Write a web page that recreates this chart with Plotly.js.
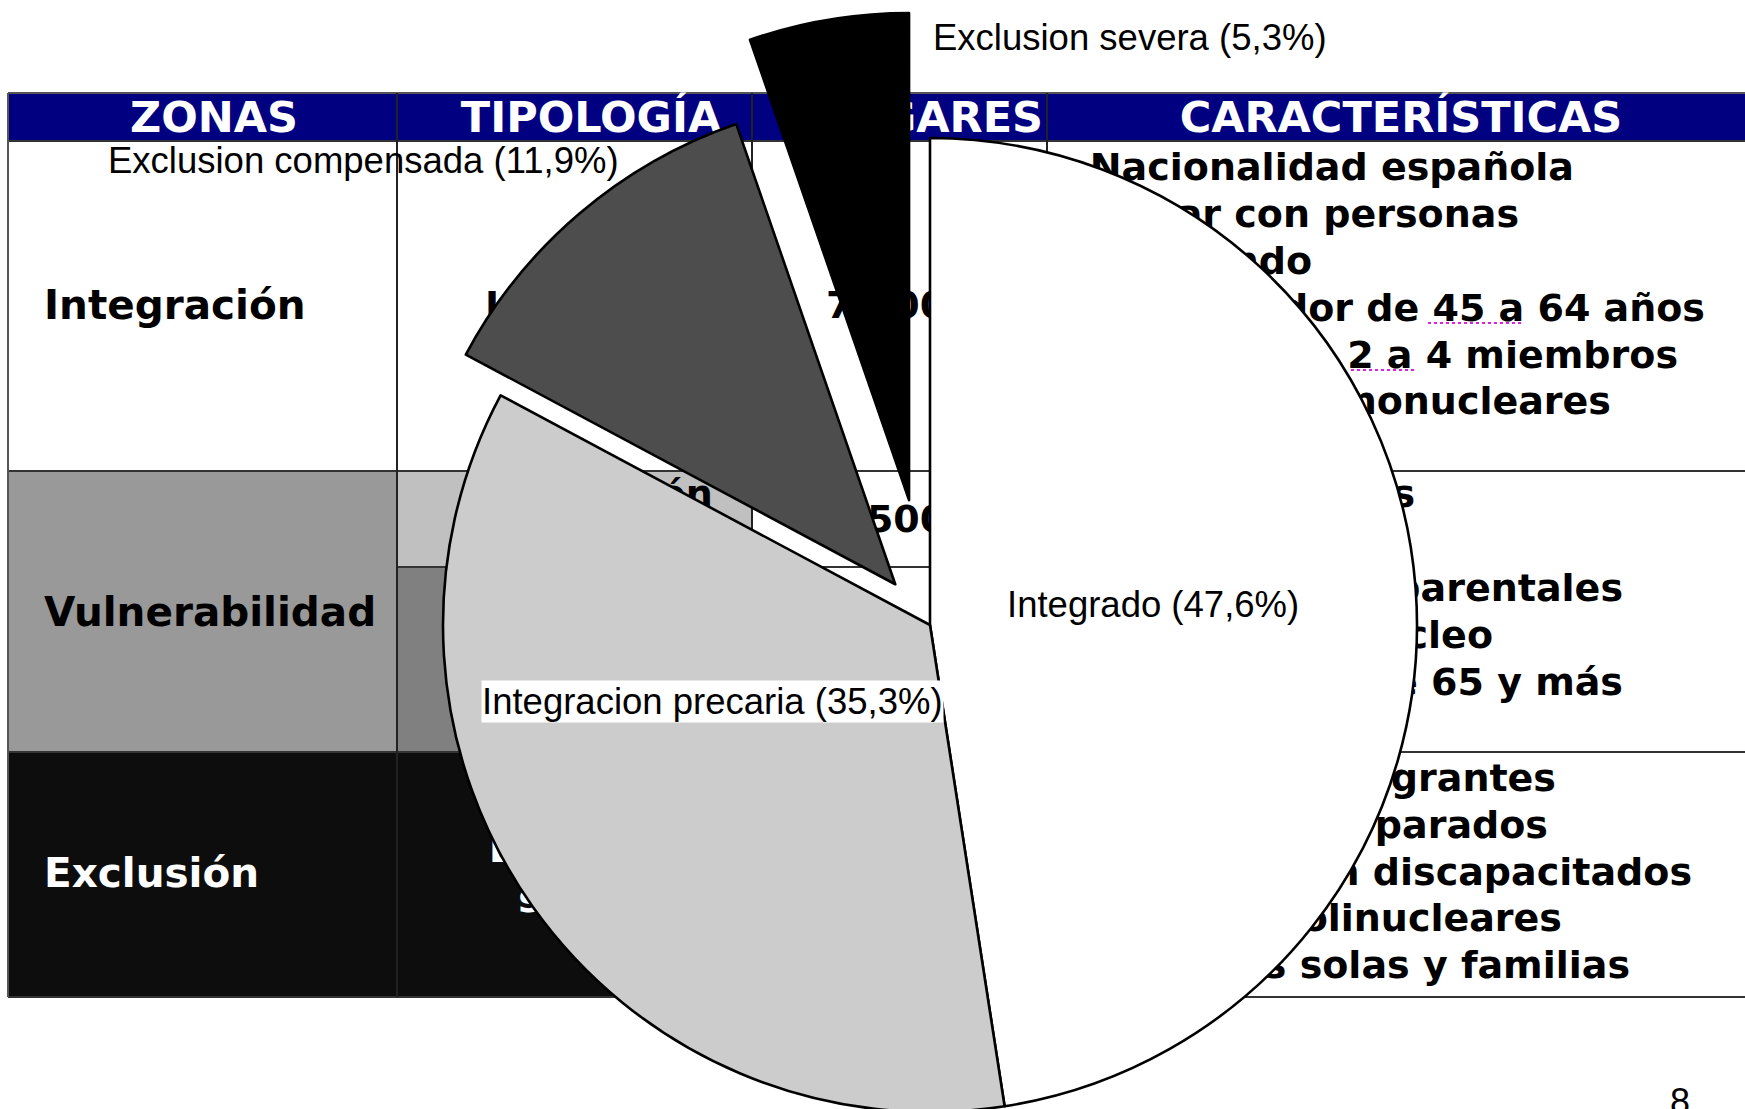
<!DOCTYPE html>
<html><head><meta charset="utf-8">
<script src="https://cdn.plot.ly/plotly-3.0.1.min.js"></script>
<style>
html,body{margin:0;padding:0;overflow:hidden;background:#fff;}
#wrap{width:1745px;height:1109px;overflow:hidden;position:relative;}
#chart{width:1745px;height:1300px;}
</style></head><body>
<div id="wrap"><div id="chart"></div></div>
<script>
// ---------------- data ----------------
const sliceLabels = ['Integrado', 'Integracion precaria', 'Exclusion compensada', 'Exclusion severa'];
const sliceValues = [47.6, 35.3, 11.9, 5.3];
const sliceColors = ['#ffffff', '#cccccc', '#4d4d4d', '#000000'];
const slicePull = [0, 0, 0.11, 0.26];

const headers = ['ZONAS', 'TIPOLOGÍA', 'HOGARES', 'CARACTERÍSTICAS'];
const zones = ['Integración', 'Vulnerabilidad', 'Exclusión'];
const typologies = ['Integrado', 'Integración<br>precaria', 'Exclusión<br>compensada', 'Exclusión<br>severa'];
const households = ['7.500.000', '5.500.000'];
const charsIntegracion = ['Nacionalidad española', 'Hogar con personas', 'trabajando',
  'Sustentador de 45 a 64 años', 'Hogares de 2 a 4 miembros', 'Hogares mononucleares'];
const charsVulnerabilidad = ['Hogares jóvenes', 'Sustentador mujer', 'Hogares monoparentales',
  'Hogares sin núcleo', 'Sustentador de 65 y más'];
const charsExclusion = ['Hogares inmigrantes', 'Sustentadores parados', 'Hogares con discapacitados',
  'Hogares polinucleares', 'Personas solas y familias'];
const pageNumber = ['8'];

// ---------------- layout constants ----------------
const W = 1745, H = 1300;
const L = 8, R = 1745, HT = 93, HB = 141, RB = [471, 752, 997], SUB = 567;
const COLS = [8, 397, 752, 1047];
const BODY = 'DejaVu Sans', LAB = 'Liberation Sans, Arial, sans-serif';
const fsHead = 43, fsZone = 40.5, fsBody = 38;
// y of text point so that cap-centre lands on c (plotly middle text: baseline = y + 0.25*fs)
const ty = (c, fs) => c + 0.1145 * fs;

// pie geometry
const cx = 930, cy = 625, rad = 487;
const maxPull = Math.max(...slicePull);
const box = 2 * rad * (1 + maxPull);
const dom = {
  x: [(cx - box / 2) / W, (cx + box / 2) / W],
  y: [1 - (cy + box / 2) / H, 1 - (cy - box / 2) / H]
};

const traces = [];
function textTrace(xs, ys, txt, pos, fs, color, family, weight) {
  traces.push({
    type: 'scatter', mode: 'text', x: xs, y: ys, text: txt, textposition: pos,
    textfont: { family: family || BODY, size: fs, color: color, weight: weight || 'bold' },
    cliponaxis: false, hoverinfo: 'skip', showlegend: false
  });
}
// header
textTrace([214, 591, 1043, 1401], [116, 116, 116, 116].map(c => ty(c, fsHead)), headers,
  ['middle center', 'middle center', 'middle left', 'middle center'], fsHead, '#ffffff');
// zones
textTrace([44, 44, 44], [304, 611, 872].map(c => ty(c, fsZone)), zones, 'middle right', fsZone,
  ['#000000', '#000000', '#ffffff']);
// typologies
textTrace([590, 590, 590, 590], [304, 518, 660, 873].map(c => ty(c, fsBody)), typologies, 'middle center', fsBody,
  ['#000000', '#000000', '#000000', '#ffffff']);
// households
textTrace([826, 826], [304, 518].map(c => ty(c, fsBody)), households, 'middle right', fsBody, '#000000');
// characteristics
textTrace([1574, 1519, 1312, 1705, 1678, 1611], [166, 213, 260, 307, 354, 400].map(c => ty(c, fsBody)),
  charsIntegracion, 'middle left', fsBody, '#000000');
textTrace([1415, 1390, 1623, 1493, 1623], [493, 540, 587, 634, 681].map(c => ty(c, fsBody)),
  charsVulnerabilidad, 'middle left', fsBody, '#000000');
textTrace([1556, 1548, 1692, 1562, 1630], [777, 824, 871, 917, 964].map(c => ty(c, fsBody)),
  charsExclusion, 'middle left', fsBody, '#000000');
// page number
textTrace([1680], [1105], pageNumber, 'middle center', 36, '#000000', LAB, 'normal');

// pie
traces.push({
  type: 'pie', labels: sliceLabels, values: sliceValues, sort: false, direction: 'clockwise', rotation: 0,
  pull: slicePull, marker: { colors: sliceColors, line: { color: '#000000', width: 2.6 } },
  textinfo: 'none', hoverinfo: 'none', showlegend: false, domain: dom
});

// shapes (table)
const shapes = [];
const rect = (x0, y0, x1, y1, fill) => shapes.push({ type: 'rect', xref: 'x', yref: 'y', x0, y0, x1, y1,
  fillcolor: fill, line: { width: 0 }, layer: 'below' });
const line = (x0, y0, x1, y1, color, width, dash) => shapes.push({ type: 'line', xref: 'x', yref: 'y', x0, y0, x1, y1,
  line: { color: color || '#333333', width: width || 2, dash: dash || 'solid' }, layer: 'below' });
rect(L, HT, R, HB, '#000080');
rect(COLS[0], RB[0], COLS[1], RB[1], '#999999');
rect(COLS[1], RB[0], COLS[2], SUB, '#c0c0c0');
rect(COLS[1], SUB, COLS[2], RB[1], '#808080');
rect(COLS[0], RB[1], COLS[2], RB[2], '#0d0d0d');
[HT, HB, RB[0], RB[1], RB[2]].forEach(y => line(L, y, R, y, y === HT ? '#555555' : '#333333', 2));
line(COLS[1], SUB, COLS[3], SUB, '#333333', 2);
COLS.forEach(x => line(x, HT, x, RB[2], x === L ? '#555555' : '#222222', 2));
// spell-check underlines
line(1428, 323, 1522, 323, '#e020e0', 2, 'dot');
line(1351, 370, 1415, 370, '#e020e0', 2, 'dot');

// pie labels
const labelX = [1006, 481, 107, 932];
const labelY = [604.5, 701, 160.5, 37];
const fmt = v => v.toFixed(1).replace('.', ',') + '%';
const annotations = sliceLabels.map((l, i) => ({
  xref: 'x', yref: 'y', x: labelX[i], y: labelY[i], xanchor: 'left', yanchor: 'middle',
  text: l + ' (' + fmt(sliceValues[i]) + ')', showarrow: false,
  font: { family: LAB, size: 36.5, color: '#000000' },
  bgcolor: i === 1 ? '#ffffff' : 'rgba(0,0,0,0)', borderpad: 0
}));

const layout = {
  width: W, height: H, margin: { l: 0, r: 0, t: 0, b: 0, pad: 0 },
  paper_bgcolor: '#ffffff', plot_bgcolor: 'rgba(0,0,0,0)',
  xaxis: { range: [0, W], visible: false, showgrid: false, zeroline: false, fixedrange: true },
  yaxis: { range: [H, 0], visible: false, showgrid: false, zeroline: false, fixedrange: true },
  showlegend: false, shapes: shapes, annotations: annotations
};
Plotly.newPlot('chart', traces, layout, { staticPlot: true, displayModeBar: false });
</script>
</body></html>
